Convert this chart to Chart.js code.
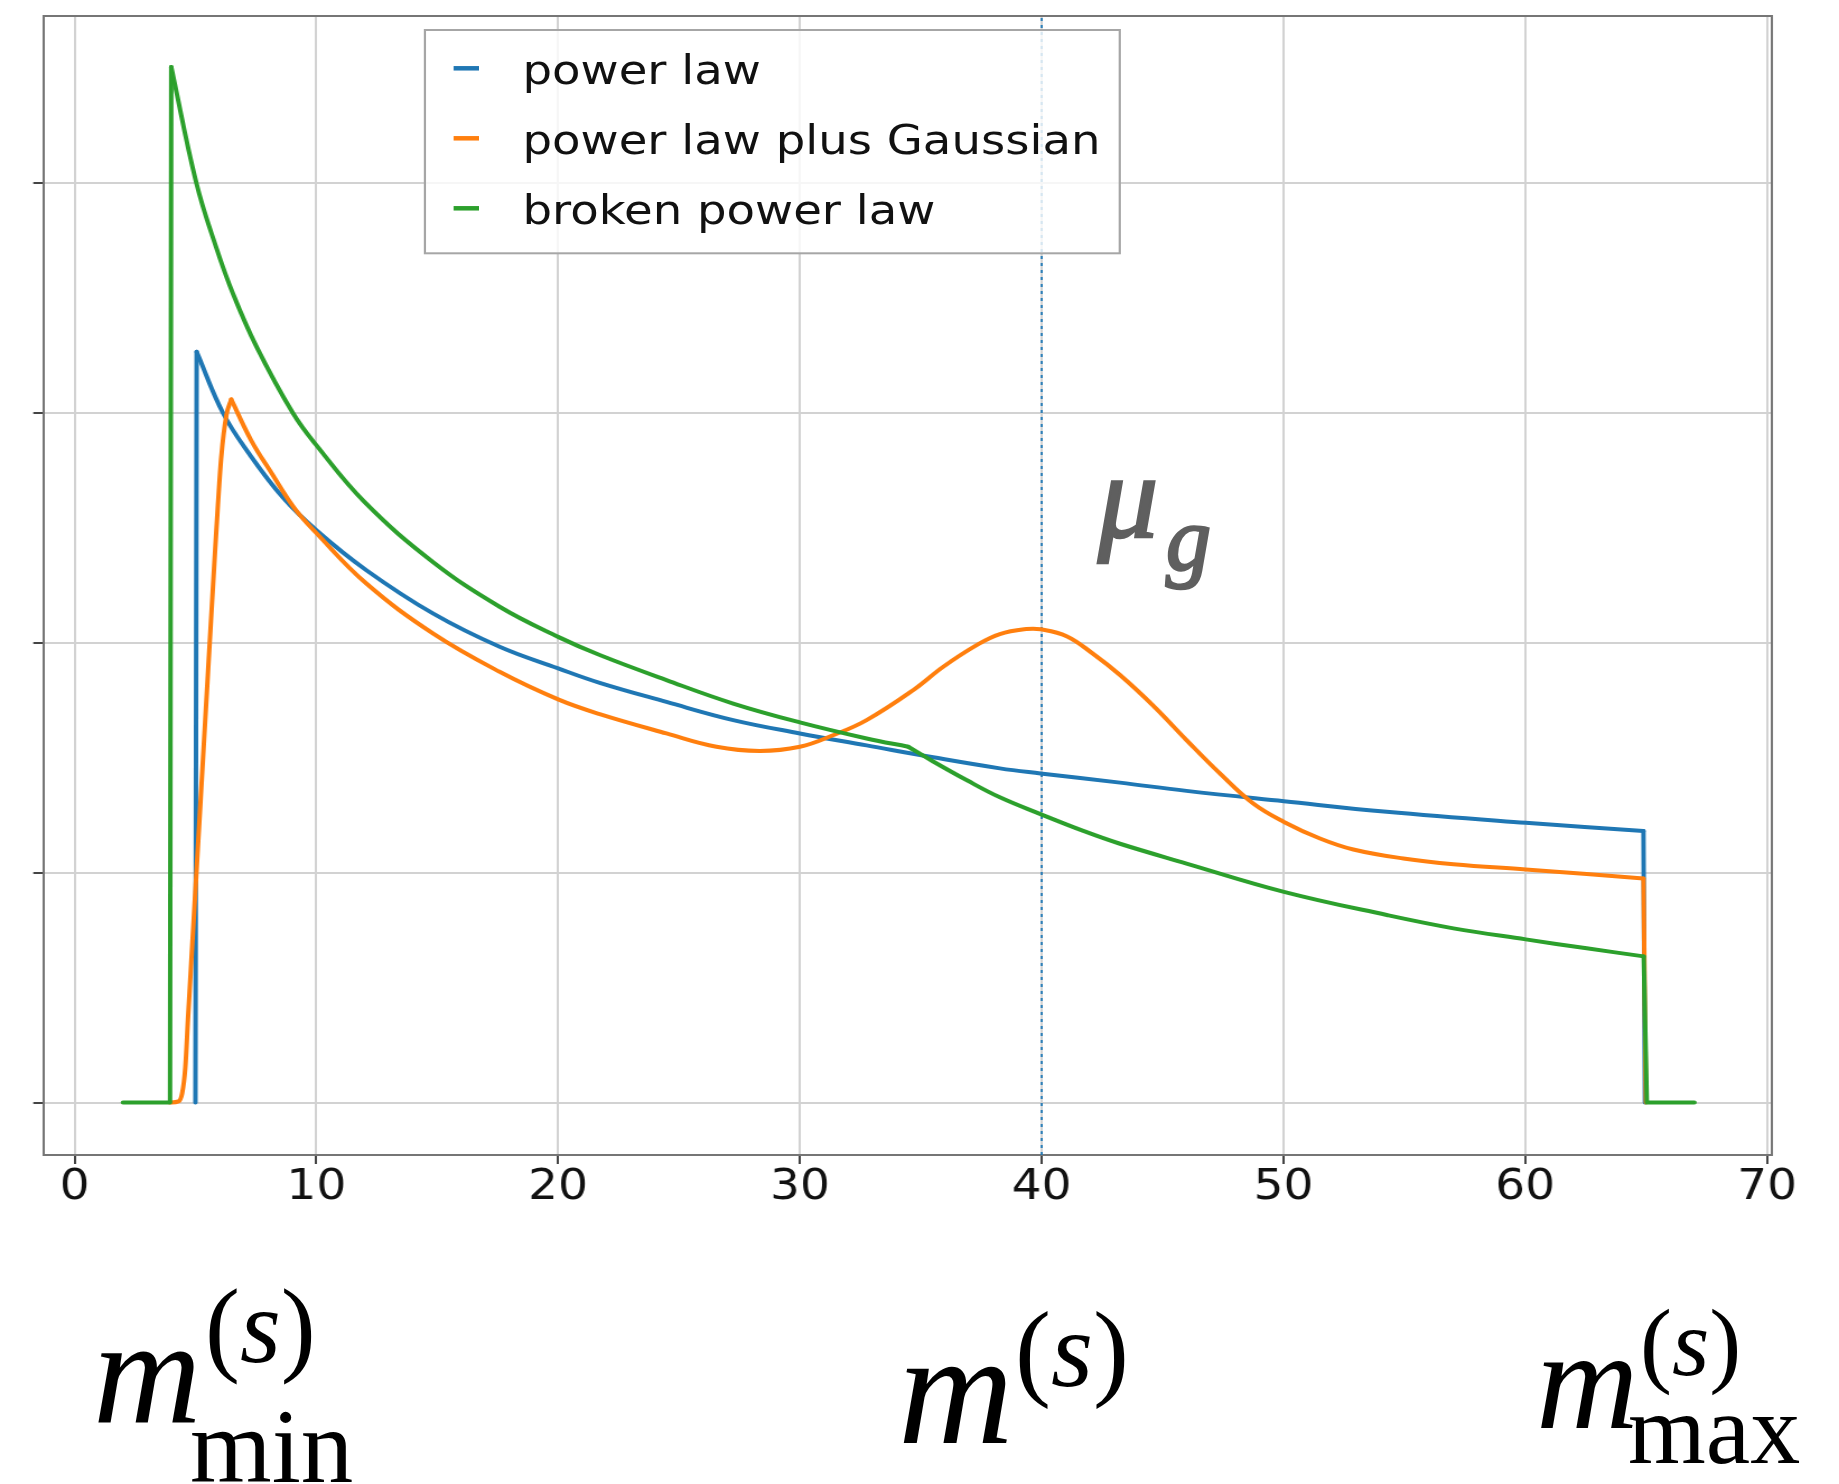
<!DOCTYPE html>
<html>
<head>
<meta charset="utf-8">
<script src="https://cdn.jsdelivr.net/npm/chart.js@4.4.1/dist/chart.umd.min.js"></script>
<style>
  html, body { margin: 0; padding: 0; background: #fff; }
  #page { position: relative; width: 1839px; height: 1484px; overflow: hidden; }
  /* the source picture is stretched ~12% horizontally, so the chart is too */
  #stretch { position: absolute; left: 0; top: 0; width: 1642px; height: 1484px;
             transform: scaleX(1.12); transform-origin: 0 0; }
  #overlay { position: absolute; left: 0; top: 0; pointer-events: none; }
</style>
</head>
<body>
<div id="page">
  <div id="stretch"><canvas id="chart" width="1642" height="1484"></canvas></div>
  <svg id="overlay" width="1839" height="1484" xmlns="http://www.w3.org/2000/svg">
    <g id="legend" transform="scale(1.12 1)"></g>
    <g font-family="'Liberation Serif', 'Times New Roman', serif">
      <g font-style="italic" fill="#5f5f5f" stroke="#5f5f5f" stroke-width="2.5">
        <text x="1098" y="537" font-size="120">μ</text>
        <text x="1166" y="570" font-size="90">g</text>
      </g>

      <text x="93" y="1422" font-size="150" font-style="italic">m</text>
      <text x="205" y="1362" font-size="105">(<tspan font-style="italic">s</tspan>)</text>
      <text x="190" y="1482" font-size="105">min</text>

      <text x="898" y="1443" font-size="160" font-style="italic">m</text>
      <text x="1015" y="1386" font-size="108">(<tspan font-style="italic">s</tspan>)</text>

      <text x="1536" y="1428" font-size="142" font-style="italic">m</text>
      <text x="1640" y="1375" font-size="96">(<tspan font-style="italic">s</tspan>)</text>
      <text x="1628" y="1463" font-size="100">max</text>
    </g>
  </svg>
</div>
<script>
const seriesNames = ["power law", "power law plus Gaussian", "broken power law"];

const powerLawX = [5.0, 5.05, 6.14, 7.24, 8.62, 10.0, 12.07, 14.82, 17.58, 20.0, 21.72,
    24.48, 27.24, 30.0, 32.76, 35.51, 38.27, 39.95, 43.24, 45.99, 50.02, 54.27, 60.02,
    64.89, 64.95];
const powerLawY = [0, 3.266, 3.0, 2.82, 2.632, 2.49, 2.316, 2.128, 1.983, 1.889, 1.826,
    1.743, 1.664, 1.606, 1.554, 1.502, 1.454, 1.432, 1.392, 1.356, 1.311, 1.265, 1.217,
    1.181, 0];

const gaussianX = [3.95, 4.3, 4.45, 4.58, 4.69, 5.03, 5.59, 5.79, 5.93, 6.07, 6.28, 6.48,
    7.31, 8.14, 9.1, 10.0, 12.07, 14.82, 17.58, 20.0, 21.72, 24.48, 26.55, 28.34, 30.0,
    31.37, 32.76, 34.68, 35.93, 37.31, 38.27, 39.37, 39.95, 41.03, 42.13, 43.24, 44.61,
    45.99, 47.37, 48.75, 50.02, 51.51, 52.89, 54.96, 57.03, 60.02, 62.54, 64.89, 64.99];
const gaussianY = [0, 0.005, 0.04, 0.15, 0.36, 0.98, 2.0, 2.36, 2.6, 2.81, 2.99, 3.059,
    2.88, 2.74, 2.585, 2.478, 2.258, 2.041, 1.874, 1.754, 1.69, 1.606, 1.548, 1.53, 1.548,
    1.598, 1.664, 1.794, 1.896, 1.99, 2.038, 2.06, 2.059, 2.029, 1.952, 1.86, 1.727,
    1.577, 1.432, 1.301, 1.221, 1.149, 1.101, 1.062, 1.037, 1.014, 0.994, 0.975, 0];

const brokenX = [2.0, 3.95, 4.0, 5.04, 5.86, 6.55, 7.52, 9.03, 10.0, 12.0, 14.82, 17.58,
    20.0, 21.72, 24.48, 27.24, 30.0, 32.76, 34.48, 35.51, 36.89, 38.27, 39.95, 41.72,
    43.24, 45.99, 50.02, 54.27, 57.03, 60.02, 62.54, 64.9, 65.03, 67.0];
const brokenY = [0, 0, 4.505, 4.0, 3.72, 3.52, 3.29, 3.0, 2.86, 2.612, 2.352, 2.157, 2.026,
    1.947, 1.838, 1.736, 1.654, 1.584, 1.548, 1.484, 1.403, 1.328, 1.255, 1.182, 1.126,
    1.04, 0.917, 0.816, 0.758, 0.71, 0.671, 0.636, 0, 0];

// index ranges of each curve: smooth stretches vs. the straight jumps at the cut-offs
const powerLawPieces = [[0, 1, "line"], [1, 23, "spline"], [23, 24, "line"]];
const gaussianPieces = [[0, 11, "monotone"], [11, 47, "spline"], [47, 48, "line"]];
const brokenPieces = [[0, 2, "line"], [2, 18, "spline"], [18, 31, "spline"], [31, 33, "line"]];

const muG = 40;
const xRange = [-1.29, 70.2];
const yRange = [-0.228, 4.727];
const xTicks = [0, 10, 20, 30, 40, 50, 60, 70];
const yTicks = [0, 1, 2, 3, 4];

const colors = {
    blue: "#1f77b4",
    orange: "#ff7f0e",
    green: "#2ca02c",
    grid: "#d2d2d2",
    spine: "#767676",
    tick: "#444444",
    text: "#111111",
};

const series = [
    { name: seriesNames[0], xs: powerLawX, ys: powerLawY, pieces: powerLawPieces,
      color: colors.blue, order: 3 },
    { name: seriesNames[1], xs: gaussianX, ys: gaussianY, pieces: gaussianPieces,
      color: colors.orange, order: 2 },
    { name: seriesNames[2], xs: brokenX, ys: brokenY, pieces: brokenPieces,
      color: colors.green, order: 1 },
];

const toPoints = (xs, ys) => xs.map((x, i) => ({ x: x, y: ys[i] }));

const curveModes = {
    line: { tension: 0, cubicInterpolationMode: "default" },
    spline: { tension: 0.4, cubicInterpolationMode: "default" },
    monotone: { tension: 0, cubicInterpolationMode: "monotone" },
};

const datasets = [];
series.forEach((s) => {
    s.pieces.forEach(([from, to, kind]) => {
        datasets.push({
            label: s.name,
            data: toPoints(s.xs.slice(from, to + 1), s.ys.slice(from, to + 1)),
            borderColor: s.color,
            borderWidth: 4,
            borderCapStyle: "round",
            borderJoinStyle: "round",
            pointRadius: 0,
            fill: false,
            order: s.order,
            ...curveModes[kind],
        });
    });
});

datasets.push({
    label: "mu_g",
    data: [{ x: muG, y: yRange[0] }, { x: muG, y: yRange[1] }],
    borderColor: colors.blue,
    borderWidth: 1.8,
    borderDash: [3, 4],
    pointRadius: 0,
    fill: false,
    order: 4,
});

// matplotlib draws all four spines, chart.js only the two axes
const framePlugin = {
    id: "frame",
    afterDatasetsDraw(chart) {
        const { ctx, chartArea } = chart;
        ctx.save();
        ctx.strokeStyle = colors.spine;
        ctx.lineWidth = 2;
        ctx.beginPath();
        ctx.moveTo(chartArea.left, chartArea.top);
        ctx.lineTo(chartArea.right, chartArea.top);
        ctx.lineTo(chartArea.right, chartArea.bottom);
        ctx.stroke();
        ctx.restore();
    },
};

const gridStyle = { color: colors.grid, lineWidth: 2, tickLength: 9,
                    tickColor: colors.tick, tickWidth: 2 };

const chart = new Chart(document.getElementById("chart"), {
    type: "line",
    data: { datasets: datasets },
    options: {
        responsive: false,
        animation: false,
        events: [],
        layout: { padding: { top: 16, right: 60, left: 0, bottom: 0 } },
        plugins: {
            legend: { display: false },
            tooltip: { enabled: false },
        },
        scales: {
            x: {
                type: "linear",
                min: xRange[0],
                max: xRange[1],
                afterBuildTicks: (axis) => {
                    axis.ticks = xTicks.map((v) => ({ value: v }));
                },
                afterFit: (axis) => {
                    axis.height = 1484 - 1155;
                },
                grid: gridStyle,
                border: { color: colors.spine, width: 2 },
                ticks: {
                    color: colors.text,
                    padding: 0,
                    maxRotation: 0,
                    autoSkip: false,
                    font: { family: "'DejaVu Sans'", size: 42, lineHeight: 1.15 },
                },
            },
            y: {
                type: "linear",
                min: yRange[0],
                max: yRange[1],
                afterBuildTicks: (axis) => {
                    axis.ticks = yTicks.map((v) => ({ value: v }));
                },
                afterFit: (axis) => {
                    axis.width = 38.7;
                },
                grid: gridStyle,
                border: { color: colors.spine, width: 2 },
                ticks: { display: false },
            },
        },
    },
    plugins: [framePlugin],
});

// legend box sits inside the plot, like matplotlib's "best" location
const svgNS = "http://www.w3.org/2000/svg";
const legendGroup = document.getElementById("legend");
const addSvg = (tag, attrs, text) => {
    const el = document.createElementNS(svgNS, tag);
    Object.entries(attrs).forEach(([k, v]) => el.setAttribute(k, v));
    if (text) el.textContent = text;
    legendGroup.appendChild(el);
    return el;
};

addSvg("rect", { x: 379.4, y: 30, width: 620.4, height: 223.3,
                 fill: "rgba(255,255,255,0.8)", stroke: "#a6a6a6", "stroke-width": 2 });

series.forEach((s, i) => {
    const rowY = 68.3 + i * 70;
    addSvg("line", { x1: 405, x2: 427.7, y1: rowY, y2: rowY,
                     stroke: s.color, "stroke-width": 4.5 });
    addSvg("text", { x: 466.5, y: rowY + 15.7, "font-family": "'DejaVu Sans'",
                     "font-size": 41.6, fill: colors.text }, s.name);
});
</script>
</body>
</html>
